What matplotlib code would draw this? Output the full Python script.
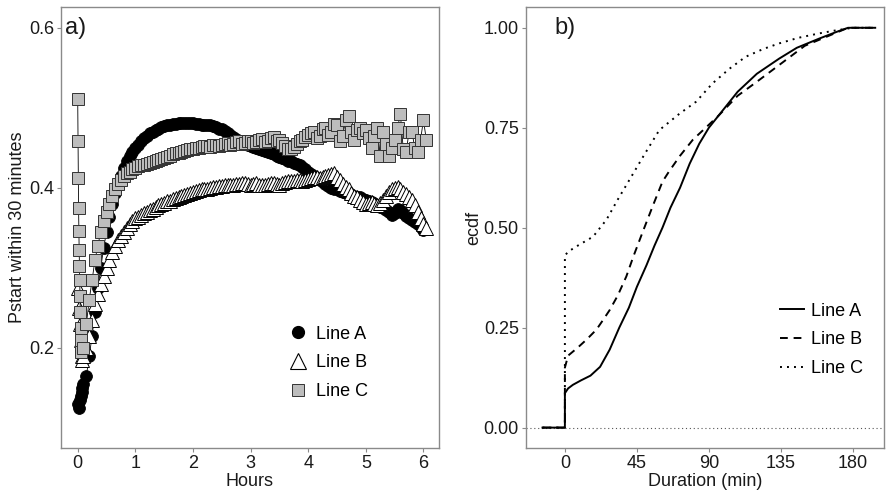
#Importing Required Libraries
import matplotlib
matplotlib.use("Agg")
import matplotlib.pyplot as plt
from matplotlib.lines import Line2D

plt.rcParams['font.family'] = ['Liberation Sans', 'DejaVu Sans']

#Panel a) Pstart within 30 minutes over time (hours)
#sampling grid after the first few minutes (hours)
grid_hours = [0.10, 0.15, 0.20, 0.25, 0.30, 0.35, 0.40, 0.45, 0.50, 0.55, 0.60, 0.65, 0.70, 0.75, 0.80, 0.85, 0.90, 0.95,
              1.00, 1.05, 1.10, 1.15, 1.20, 1.25, 1.30, 1.35, 1.40, 1.45, 1.50, 1.55, 1.60, 1.65, 1.70, 1.75, 1.80, 1.85, 1.90, 1.95,
              2.00, 2.05, 2.10, 2.15, 2.20, 2.25, 2.30, 2.35, 2.40, 2.45, 2.50, 2.55, 2.60, 2.65, 2.70, 2.75, 2.80, 2.85, 2.90, 2.95,
              3.00, 3.05, 3.10, 3.15, 3.20, 3.25, 3.30, 3.35, 3.40, 3.45, 3.50, 3.55, 3.60, 3.65, 3.70, 3.75, 3.80, 3.85, 3.90, 3.95,
              4.00, 4.05, 4.10, 4.15, 4.20, 4.25, 4.30, 4.35, 4.40, 4.45, 4.50, 4.55, 4.60, 4.65, 4.70, 4.75, 4.80, 4.85, 4.90, 4.95,
              5.00, 5.05, 5.10, 5.15, 5.20, 5.25, 5.30, 5.35, 5.40, 5.45, 5.50, 5.55, 5.60, 5.65, 5.70, 5.75, 5.80, 5.85, 5.90, 5.95,
              6.00]

early_hours_a = [0.0, 0.017, 0.033, 0.05, 0.067, 0.083]
early_a = [0.13, 0.125, 0.135, 0.14, 0.15, 0.145]
grid_a = [0.155, 0.165, 0.19, 0.215, 0.245, 0.275, 0.30, 0.325, 0.345, 0.363, 0.38, 0.393, 0.405, 0.415, 0.425, 0.433, 0.44, 0.445,
          0.45, 0.454, 0.458, 0.462, 0.465, 0.468, 0.47, 0.472, 0.474, 0.476, 0.477, 0.478, 0.479, 0.48, 0.48, 0.481, 0.481, 0.481, 0.481, 0.481,
          0.481, 0.48, 0.48, 0.479, 0.479, 0.478, 0.478, 0.477, 0.476, 0.474, 0.473, 0.471, 0.469, 0.466, 0.464, 0.461, 0.459, 0.457, 0.455, 0.453,
          0.452, 0.451, 0.45, 0.448, 0.447, 0.446, 0.445, 0.443, 0.442, 0.44, 0.439, 0.437, 0.436, 0.434, 0.433, 0.431, 0.43, 0.428, 0.426, 0.423,
          0.42, 0.417, 0.415, 0.412, 0.41, 0.407, 0.405, 0.402, 0.40, 0.399, 0.398, 0.396, 0.395, 0.394, 0.393, 0.391, 0.39, 0.389, 0.388, 0.386,
          0.385, 0.383, 0.382, 0.38, 0.378, 0.376, 0.375, 0.372, 0.37, 0.366, 0.368, 0.374, 0.372, 0.368, 0.365, 0.362, 0.36, 0.357, 0.355, 0.351,
          0.348]

early_hours_b = [0.0, 0.017, 0.033, 0.05, 0.067, 0.083]
early_b = [0.275, 0.25, 0.23, 0.21, 0.19, 0.185]
grid_b = [0.19, 0.20, 0.215, 0.235, 0.255, 0.268, 0.28, 0.29, 0.30, 0.31, 0.32, 0.328, 0.335, 0.34, 0.345, 0.35, 0.355, 0.358,
          0.362, 0.364, 0.366, 0.368, 0.37, 0.372, 0.374, 0.376, 0.378, 0.38, 0.381, 0.383, 0.384, 0.386, 0.387, 0.389, 0.39, 0.391, 0.392, 0.394,
          0.395, 0.396, 0.397, 0.398, 0.398, 0.399, 0.40, 0.401, 0.401, 0.402, 0.402, 0.403, 0.403, 0.404, 0.404, 0.405, 0.405, 0.406, 0.406, 0.405,
          0.404, 0.405, 0.406, 0.404, 0.403, 0.404, 0.405, 0.406, 0.406, 0.405, 0.404, 0.406, 0.407, 0.408, 0.408, 0.409, 0.41, 0.41, 0.409, 0.41,
          0.411, 0.412, 0.413, 0.413, 0.412, 0.414, 0.415, 0.416, 0.417, 0.418, 0.414, 0.41, 0.405, 0.401, 0.398, 0.394, 0.39, 0.388, 0.385, 0.382,
          0.38, 0.381, 0.382, 0.38, 0.378, 0.381, 0.385, 0.39, 0.395, 0.398, 0.40, 0.401, 0.398, 0.395, 0.392, 0.389, 0.385, 0.378, 0.37, 0.362,
          0.355]
last_hour_b = [6.05]
last_b = [0.35]

early_hours_c = [0.0, 0.005, 0.01, 0.015, 0.02, 0.025, 0.03, 0.035, 0.04, 0.045, 0.05, 0.055, 0.06]
early_c = [0.511, 0.459, 0.412, 0.375, 0.346, 0.3225, 0.302, 0.285, 0.265, 0.245, 0.225, 0.21, 0.195]
grid_c = [0.20, 0.23, 0.26, 0.285, 0.31, 0.328, 0.345, 0.358, 0.37, 0.38, 0.39, 0.398, 0.405, 0.41, 0.415, 0.418, 0.42, 0.423,
          0.425, 0.427, 0.428, 0.429, 0.43, 0.431, 0.432, 0.434, 0.435, 0.436, 0.437, 0.439, 0.44, 0.442, 0.443, 0.444, 0.445, 0.446, 0.447, 0.448,
          0.449, 0.45, 0.45, 0.451, 0.452, 0.452, 0.451, 0.453, 0.454, 0.452, 0.453, 0.455, 0.456, 0.454, 0.455, 0.457, 0.458, 0.455, 0.456, 0.458,
          0.459, 0.456, 0.457, 0.46, 0.461, 0.457, 0.458, 0.462, 0.463, 0.459, 0.46, 0.456, 0.452, 0.449, 0.448, 0.451, 0.455, 0.458, 0.46, 0.463,
          0.466, 0.468, 0.47, 0.462, 0.465, 0.473, 0.475, 0.466, 0.47, 0.48, 0.478, 0.458, 0.465, 0.485, 0.49, 0.47, 0.46, 0.472, 0.475, 0.468,
          0.472, 0.462, 0.45, 0.465, 0.475, 0.44, 0.47, 0.455, 0.44, 0.45, 0.46, 0.475, 0.492, 0.448, 0.445, 0.47, 0.47, 0.45, 0.445, 0.46,
          0.485]
last_hour_c = [6.05]
last_c = [0.46]

hours_a = early_hours_a + grid_hours
line_a = early_a + grid_a
hours_b = early_hours_b + grid_hours + last_hour_b
line_b = early_b + grid_b + last_b
hours_c = early_hours_c + grid_hours + last_hour_c
line_c = early_c + grid_c + last_c

#Panel b) ecdf of duration (min)
dur_a = [-14, 0, 0, 2, 5, 10, 16, 22, 28, 34, 40, 45, 51, 56, 61, 66, 72, 78, 84, 90, 100, 108, 120, 134, 145, 159, 170, 177, 194]
ecdf_a = [0, 0, 0.086, 0.098, 0.107, 0.118, 0.13, 0.152, 0.195, 0.25, 0.30, 0.352, 0.406, 0.455, 0.5, 0.55, 0.60,
          0.66, 0.71, 0.75, 0.80, 0.84, 0.885, 0.923, 0.95, 0.973, 0.99, 1.0, 1.0]

dur_b = [-14, 0, 0, 2, 8, 13.5, 19.7, 24, 28, 33, 38.4, 43, 48.7, 55, 61, 65, 72, 80, 88, 96, 108, 120, 135, 150, 165, 177, 194]
ecdf_b = [0, 0, 0.15, 0.18, 0.20, 0.22, 0.245, 0.27, 0.294, 0.33, 0.378, 0.43, 0.49, 0.555, 0.615, 0.64, 0.68,
          0.72, 0.75, 0.78, 0.83, 0.865, 0.91, 0.955, 0.98, 1.0, 1.0]

dur_c = [-14, 0, 0, 2, 8, 17.6, 26, 33, 40.4, 50, 59, 71.6, 82, 92.3, 103, 113, 124, 134, 146, 159, 170, 180, 194]
ecdf_c = [0, 0, 0.43, 0.44, 0.455, 0.4775, 0.52, 0.57, 0.62, 0.685, 0.744, 0.785, 0.815, 0.861, 0.898, 0.9275,
          0.947, 0.961, 0.975, 0.986, 0.994, 1.0, 1.0]

frame_col = '#8a8a8a'
text_col = '#1a1a1a'
fs = 13

fig = plt.figure(figsize=(8.86, 4.95), dpi=100)
ax1 = fig.add_axes([61 / 886, 47 / 495, 378 / 886, 441 / 495])
ax2 = fig.add_axes([525.7 / 886, 47 / 495, 358.3 / 886, 441 / 495])

#a) points with thin connecting lines
ax1.plot(hours_a, line_a, color='black', lw=0.6, marker='o', ms=8.5,
         mfc='black', mec='black', mew=0.6)
ax1.plot(hours_b, line_b, color='black', lw=0.6, marker='^', ms=10,
         mfc='white', mec='black', mew=0.7)
ax1.plot(hours_c, line_c, color='black', lw=0.6, marker='s', ms=8.5,
         mfc='#bdbdbd', mec='#333333', mew=0.7)
ax1.set_xlim(-0.29, 6.27)
ax1.set_ylim(0.075, 0.626)
ax1.set_xticks([0, 1, 2, 3, 4, 5, 6])
ax1.set_yticks([0.2, 0.4, 0.6])
ax1.set_xlabel("Hours", fontsize=fs, labelpad=1, color=text_col)
ax1.set_ylabel("Pstart within 30 minutes", fontsize=fs, labelpad=2, color=text_col)
ax1.text(-0.22, 0.6, "a)", fontsize=17, va='center', ha='left', color=text_col)

handles_a = [
    Line2D([], [], ls='none', marker='o', ms=8.5, mfc='black', mec='black'),
    Line2D([], [], ls='none', marker='^', ms=11, mfc='white', mec='black', mew=0.8),
    Line2D([], [], ls='none', marker='s', ms=8.5, mfc='#bdbdbd', mec='#333333', mew=0.7),
]
ax1.legend(handles_a, ["Line A", "Line B", "Line C"], loc='center left',
           bbox_to_anchor=(0.608, 0.193), frameon=False, fontsize=fs,
           handlelength=0.8, handletextpad=0.6, labelspacing=0.65, borderpad=0,
           borderaxespad=0)

#b) ecdf lines
ax2.axhline(0, color='#555555', lw=0.8, ls=(0, (1, 2.5)))
ax2.plot(dur_a, ecdf_a, color='black', lw=1.4, ls='-', label="Line A")
ax2.plot(dur_b, ecdf_b, color='black', lw=1.4, ls=(0, (4, 3)), label="Line B")
ax2.plot(dur_c, ecdf_c, color='black', lw=1.4, ls=(0, (1, 2.6)), label="Line C")
ax2.set_xlim(-24.5, 199.5)
ax2.set_ylim(-0.051, 1.052)
ax2.set_xticks([0, 45, 90, 135, 180])
ax2.set_yticks([0.0, 0.25, 0.5, 0.75, 1.0])
ax2.set_yticklabels(["0.00", "0.25", "0.50", "0.75", "1.00"])
ax2.set_xlabel("Duration (min)", fontsize=fs, labelpad=1, color=text_col)
ax2.set_ylabel("ecdf", fontsize=fs, labelpad=1, color=text_col)
ax2.text(-6.5, 1.0, "b)", fontsize=17, va='center', ha='left', color=text_col)
ax2.legend(loc='center left', bbox_to_anchor=(0.71, 0.245), frameon=False, fontsize=fs,
           handlelength=1.3, handletextpad=0.4, labelspacing=0.65, borderpad=0,
           borderaxespad=0)

for ax in (ax1, ax2):
    for sp in ax.spines.values():
        sp.set_color(frame_col)
        sp.set_linewidth(1.0)
    ax.tick_params(direction='out', length=3, width=0.8, color=frame_col,
                   labelsize=fs, labelcolor=text_col, pad=2)

fig.savefig("out.png", dpi=100)
